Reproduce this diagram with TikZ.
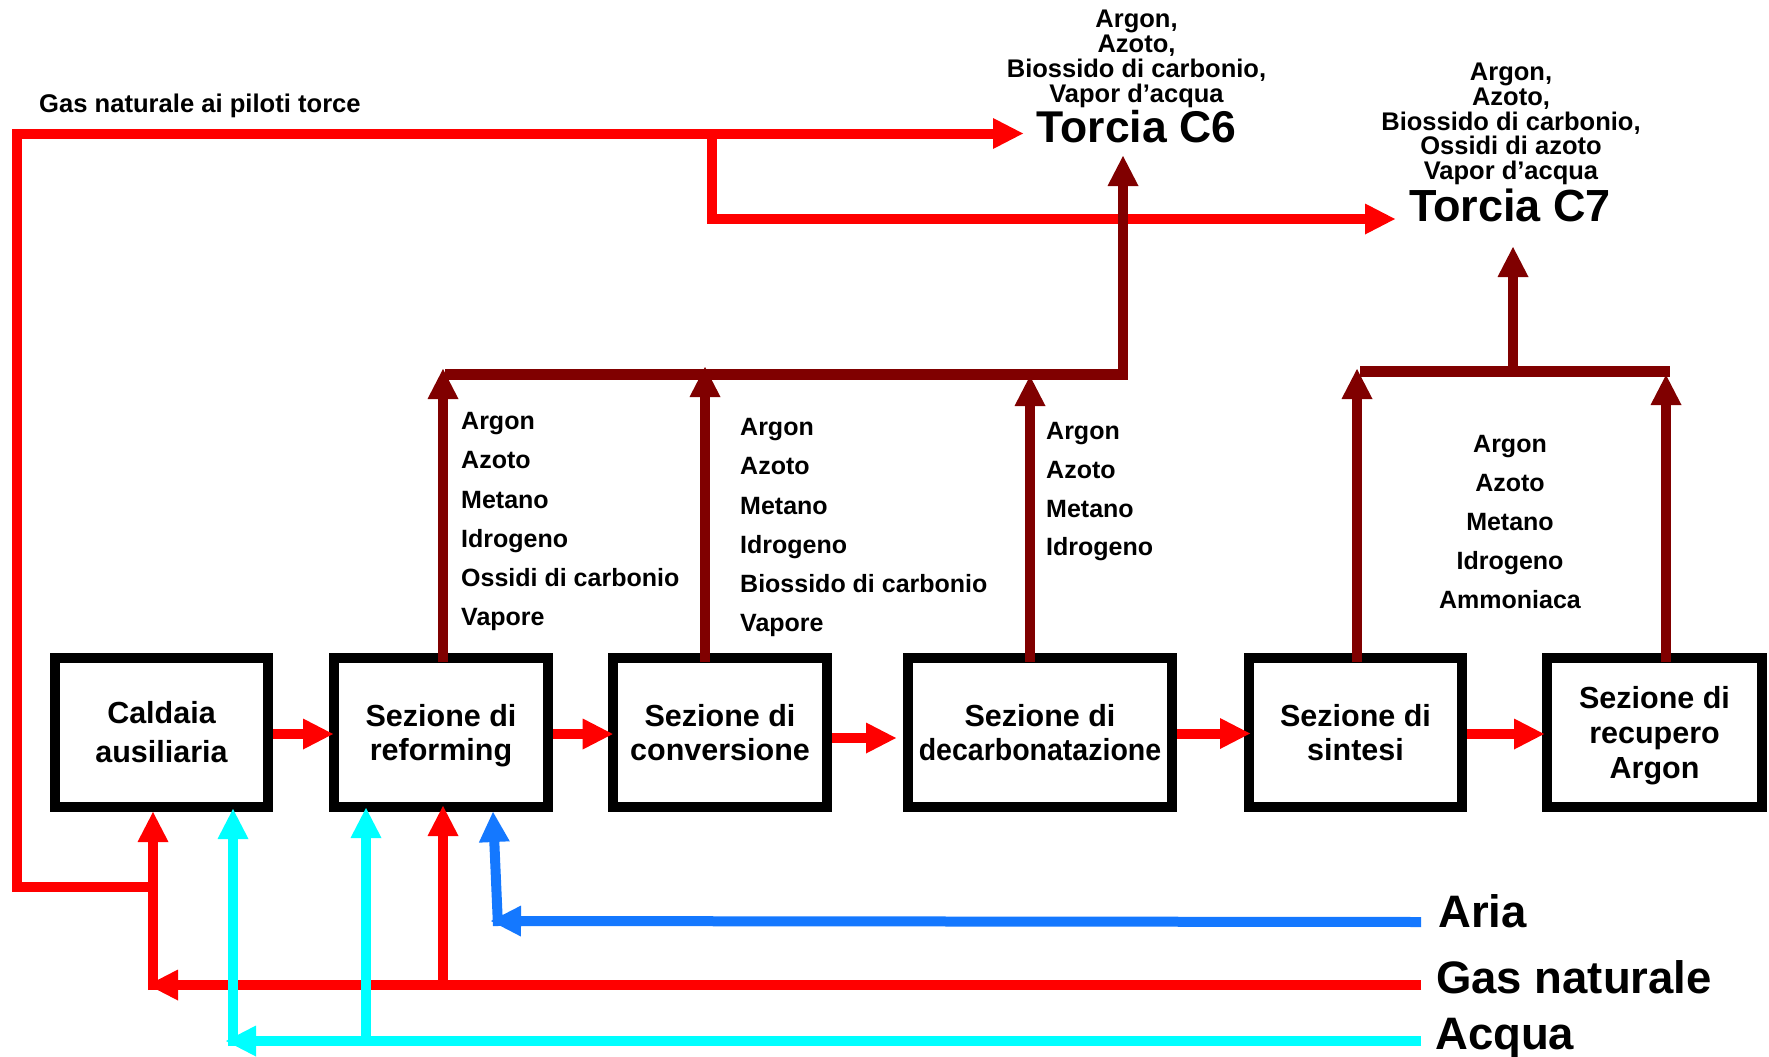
\documentclass[tikz,border=0pt]{standalone}
\usepackage{fontspec}
\setmainfont{Liberation Sans}
\usetikzlibrary{arrows.meta}
\definecolor{fred}{RGB}{255,0,0}
\definecolor{fdark}{RGB}{128,0,0}
\definecolor{fcyan}{RGB}{0,255,255}
\definecolor{fblue}{RGB}{20,120,255}
\newcommand\mysz[2]{\fontsize{#1}{#2}\selectfont\bfseries}
\begin{document}
\begin{tikzpicture}[x=1pt,y=-1pt,
  sec/.style={draw=black, line width=10pt, fill=white, minimum height=149pt,
    inner sep=0pt, align=center, font=\mysz{30.5}{34}},
  flow/.style={line width=10pt, -{Triangle[length=30pt,width=31pt,line width=0pt]}},
  lst/.style={inner sep=0pt, anchor=north west, align=left, font=\mysz{25}{39.3}},
  big/.style={inner sep=0pt, anchor=base west, font=\mysz{45.5}{50}},
  ttl/.style={inner sep=0pt, anchor=base, font=\mysz{44.5}{50}}
]
\fill[white] (0,0) rectangle (1769,1057);
\useasboundingbox (0,0) rectangle (1769,1057);

% process boxes
\node[sec, minimum width=213pt, font=\mysz{30.5}{39}] (cald) at (161.5,732.5) {Caldaia\\ausiliaria};
\node[sec, minimum width=214pt] (ref) at (441,732.5) {Sezione di\\\smash{reforming}};
\node[sec, minimum width=214pt] (conv) at (720,732.5) {Sezione di\\conversione};
\node[sec, minimum width=264pt] (dec) at (1040,732.5) {Sezione di\\\scalebox{0.935}[1]{decarbonatazione}};
\node[sec, minimum width=213pt] (sint) at (1355.5,732.5) {Sezione di\\sintesi};
\node[sec, minimum width=215pt, font=\mysz{30.5}{35}] (rec) at (1654.5,732.5) {Sezione di\\recupero\\\smash{Argon}};

% texts
\node[anchor=base west, inner sep=0pt, font=\mysz{25.6}{30}] (pil) at (39,112) {Gas naturale ai piloti torce};
\node[inner sep=0pt, anchor=north, align=center, font=\mysz{25.5}{25}] (c6l) at (1136.5,10)
  {Argon,\\Azoto,\\Biossido di carbonio,\\Vapor d’acqua};
\node[ttl] (c6) at (1136.5,142) {Torcia C6};
\node[inner sep=0pt, anchor=north, align=center, font=\mysz{25.5}{24.75}] (c7l) at (1511,63)
  {Argon,\\Azoto,\\Biossido di carbonio,\\Ossidi di azoto\\Vapor d’acqua};
\node[ttl, font=\mysz{45}{50}] (c7) at (1510,221) {Torcia C7};

\node[lst] (l1) at (461,412) {Argon\\Azoto\\Metano\\Idrogeno\\Ossidi di carbonio\\Vapore};
\node[lst] (l2) at (740,418) {Argon\\Azoto\\Metano\\Idrogeno\\Biossido di carbonio\\Vapore};
\node[lst, font=\mysz{25}{38.8}] (l3) at (1046,422) {Argon\\Azoto\\Metano\\Idrogeno};
\node[lst, anchor=north, align=center, font=\mysz{25}{38.9}] (l4) at (1510,435) {Argon\\Azoto\\Metano\\Idrogeno\\Ammoniaca};

\node[big] (aria) at (1438,927) {Aria};
\node[big] (gas) at (1436,993) {Gas naturale};
\node[big] (acq) at (1435,1049) {Acqua};

% coordinates
\coordinate (ariaS) at (1421,922);
\coordinate (gasS) at (1421,985);
\coordinate (acqS) at (1421,1041);
\coordinate (ariaK) at (497,921);
\coordinate (gasK) at (153,985);
\coordinate (gasR) at (443,985);
\coordinate (acqK) at (233,1041);
\coordinate (acqR) at (366,1041);
\coordinate (pilK) at (153,887);
\coordinate (pilC) at (17,133.5);
\coordinate (c6in) at (1023,133.5);
\coordinate (brK) at (712,133.5);
\coordinate (c7in) at (1395,219);
\coordinate (c6L) at (445,374.5);
\coordinate (c6up) at (1123,156);
\coordinate (c7L) at (1360,371.5);
\coordinate (c7R) at (1670,371.5);
\coordinate (c7M) at (1513,371.5);
\coordinate (c7up) at (1513,247);
\coordinate (r1) at (443,369);
\coordinate (r2) at (705,367);
\coordinate (r3) at (1030,376);
\coordinate (r4) at (1357,369);
\coordinate (r5) at (1666,375);

% gas to flare pilots
\draw[flow, fred] (pilK) -| (pilC) -- (c6in);
\draw[flow, fred] (brK) |- (c7in);

% feed streams
\draw[flow, fred] (gasS) -- ([xshift=-5pt]gasK);
\draw[flow, fred] ([yshift=-5pt]gasK) -- ([xshift=-8.5pt]cald.south);
\draw[flow, fred] (gasR) -- ([xshift=2pt,yshift=6pt]ref.south);
\draw[flow, fcyan] (acqS) -- ([xshift=-7pt]acqK);
\draw[flow, fcyan] ([yshift=-5pt]acqK) -- ([xshift=71.5pt,yshift=3pt]cald.south);
\draw[flow, fcyan] (acqR) -- ([xshift=-75pt,yshift=4pt]ref.south);
\draw[flow, fblue] (ariaS) -- ([xshift=-6pt]ariaK);
\draw[flow, fblue] ([xshift=1pt,yshift=-5pt]ariaK) -- ([xshift=52pt]ref.south);

% main line
\draw[flow, fred] ([yshift=-1.5pt]cald.east) -- ([xshift=4pt,yshift=-1.5pt]ref.west);
\draw[flow, fred] ([yshift=-1.5pt]ref.east) -- ([xshift=4.7pt,yshift=-1.5pt]conv.west);
\draw[flow, fred] ([yshift=-5.5pt]conv.east) -- ([xshift=-7pt,yshift=-5.5pt]dec.west);
\draw[flow, fred] ([yshift=-1pt]dec.east) -- ([xshift=6pt,yshift=-1pt]sint.west);
\draw[flow, fred] ([yshift=-1.5pt]sint.east) -- ([xshift=2pt,yshift=-1.5pt]rec.west);

% vents
\draw[flow, fdark] ([xshift=2pt,yshift=-9pt]ref.north) -- (r1);
\draw[flow, fdark] ([xshift=-15pt,yshift=-9pt]conv.north) -- (r2);
\draw[flow, fdark] ([xshift=-10pt,yshift=-9pt]dec.north) -- (r3);
\draw[flow, fdark] ([xshift=1.5pt,yshift=-9pt]sint.north) -- (r4);
\draw[flow, fdark] ([xshift=11.5pt,yshift=-9pt]rec.north) -- (r5);
\draw[flow, fdark, line width=10.5pt] (c6L) -| (c6up);
\draw[fdark, line width=11pt] (c7L) -- (c7R);
\draw[flow, fdark] (c7M) -- (c7up);
\end{tikzpicture}
\end{document}
